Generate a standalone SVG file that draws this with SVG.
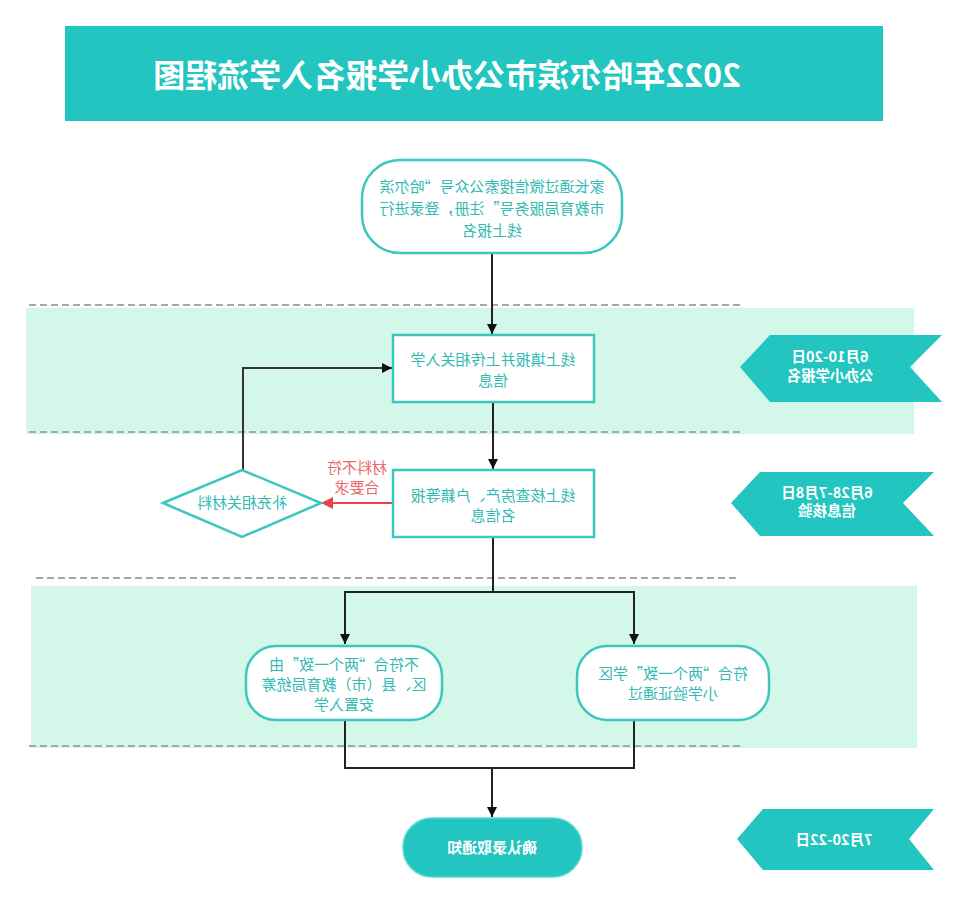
<svg xmlns="http://www.w3.org/2000/svg" width="966" height="900" viewBox="0 0 966 900">
<defs>
<style>
.t{font-family:"Noto Sans CJK SC","Noto Sans",sans-serif;text-anchor:middle}
.nt{fill:#33bab4;font-size:15px}
.tag{fill:#22c5bf}
.tagt{fill:#ffffff;font-size:14.5px;font-weight:bold}
.node{fill:#ffffff;stroke:#3cc6c0;stroke-width:2.5}
.dash{stroke:#a8a8a8;stroke-width:2;stroke-dasharray:7 4;fill:none}
.band{fill:#d3f7e9}
.ln{stroke:#222;stroke-width:2;fill:none}
</style>
<marker id="ah" markerUnits="userSpaceOnUse" markerWidth="10" markerHeight="10" refX="10" refY="5" orient="auto">
<path d="M0,0 L10,5 L0,10 z" fill="#111"/>
</marker>
<marker id="ahr" markerUnits="userSpaceOnUse" markerWidth="12" markerHeight="12" refX="12" refY="6" orient="auto">
<path d="M0,0 L12,6 L0,12 z" fill="#e8454a"/>
</marker>
</defs>
<rect width="966" height="900" fill="#ffffff"/>

<g id="bands">
<rect class="band" x="26" y="308" width="888" height="126"/>
<rect class="band" x="31" y="586" width="886" height="162"/>
<line class="dash" x1="29" y1="305" x2="740" y2="305"/>
<line class="dash" x1="29" y1="432" x2="740" y2="432"/>
<line class="dash" x1="36" y1="578" x2="740" y2="578"/>
<line class="dash" x1="29" y1="746" x2="740" y2="746"/>
</g>

<g id="title">
<rect x="65" y="26" width="818" height="95" fill="#22c5bf"/>
<text class="t" x="447" y="87" transform="matrix(-1 0 0 1 894 0)" font-size="32" font-weight="bold" fill="#ffffff">2022年哈尔滨市公办小学报名入学流程图</text>
</g>

<g id="connectors">
<line class="ln" x1="492" y1="253" x2="492" y2="334" marker-end="url(#ah)"/>
<line class="ln" x1="493" y1="402" x2="493" y2="469" marker-end="url(#ah)"/>
<polyline points="243,470 243,368 392,368" fill="none" stroke="#333" stroke-width="2" marker-end="url(#ah)"/>
<line x1="393" y1="503" x2="321" y2="503" stroke="#e8454a" stroke-width="2" marker-end="url(#ahr)"/>
<polyline class="ln" points="493,537 493,592"/>
<polyline class="ln" points="345,644 345,592 634,592 634,644"/>
<line x1="345" y1="592" x2="345" y2="644" class="ln" marker-end="url(#ah)"/>
<line x1="634" y1="592" x2="634" y2="644" class="ln" marker-end="url(#ah)"/>
<polyline class="ln" points="345,720 345,768 634,768 634,720"/>
<line class="ln" x1="492" y1="768" x2="492" y2="817" marker-end="url(#ah)"/>
<g id="label-red">
<text class="t" x="357" y="473" transform="matrix(-1 0 0 1 714 0)" font-size="15" fill="#e86a6a">材料不符</text>
<text class="t" x="357" y="493" transform="matrix(-1 0 0 1 714 0)" font-size="15" fill="#e86a6a">合要求</text>
</g>
</g>

<g id="n-start">
<rect class="node" x="362" y="160" width="260" height="93" rx="38"/>
<text class="t nt" x="492" y="192" transform="matrix(-1 0 0 1 984 0)">家长通过微信搜索公众号“哈尔滨</text>
<text class="t nt" x="492" y="214" transform="matrix(-1 0 0 1 984 0)">市教育局服务号”注册，登录进行</text>
<text class="t nt" x="492" y="236" transform="matrix(-1 0 0 1 984 0)">线上报名</text>
</g>

<g id="n-fill">
<rect class="node" x="393" y="335" width="201" height="67"/>
<text class="t nt" x="493" y="365" transform="matrix(-1 0 0 1 986 0)">线上填报并上传相关入学</text>
<text class="t nt" x="493" y="386" transform="matrix(-1 0 0 1 986 0)">信息</text>
</g>

<g id="n-check">
<rect class="node" x="393" y="470" width="201" height="67"/>
<text class="t nt" x="493" y="501" transform="matrix(-1 0 0 1 986 0)">线上核查房产、户籍等报</text>
<text class="t nt" x="493" y="521" transform="matrix(-1 0 0 1 986 0)">名信息</text>
</g>

<g id="n-supplement">
<polygon class="node" points="163,503 242,470 321,503 242,537"/>
<text class="t nt" x="242" y="508" transform="matrix(-1 0 0 1 484 0)">补充相关材料</text>
</g>

<g id="n-nomatch">
<rect class="node" x="246" y="646" width="196" height="74" rx="30"/>
<text class="t nt" x="344" y="670" transform="matrix(-1 0 0 1 688 0)">不符合“两个一致”由</text>
<text class="t nt" x="344" y="690" transform="matrix(-1 0 0 1 688 0)">区、县（市）教育局统筹</text>
<text class="t nt" x="344" y="710" transform="matrix(-1 0 0 1 688 0)">安置入学</text>
</g>

<g id="n-match">
<rect class="node" x="577" y="646" width="192" height="74" rx="30"/>
<text class="t nt" x="673" y="679" transform="matrix(-1 0 0 1 1346 0)">符合“两个一致”学区</text>
<text class="t nt" x="673" y="699" transform="matrix(-1 0 0 1 1346 0)">小学验证通过</text>
</g>

<g id="n-confirm">
<rect x="403" y="818" width="179" height="59" rx="29" fill="#22c5bf" stroke="#5fd8d2" stroke-width="1.5"/>
<text class="t" x="492" y="853" transform="matrix(-1 0 0 1 984 0)" font-size="15" font-weight="bold" fill="#ffffff">确认录取通知</text>
</g>

<g id="tag1">
<polygon class="tag" points="740,367 770,335 942,335 910,367 942,402 770,402"/>
<text class="t tagt" x="830" y="362" transform="matrix(-1 0 0 1 1660 0)">6月10-20日</text>
<text class="t tagt" x="830" y="381" transform="matrix(-1 0 0 1 1660 0)">公办小学报名</text>
</g>

<g id="tag2">
<polygon class="tag" points="731,503 760,472 934,472 903,503 934,536 760,536"/>
<text class="t tagt" x="827" y="498" transform="matrix(-1 0 0 1 1654 0)">6月28-7月8日</text>
<text class="t tagt" x="827" y="516" transform="matrix(-1 0 0 1 1654 0)">信息核验</text>
</g>

<g id="tag3">
<polygon class="tag" points="737,839 763,809 934,809 909,839 934,870 763,870"/>
<text class="t tagt" x="834" y="845" transform="matrix(-1 0 0 1 1668 0)">7月20-22日</text>
</g>
</svg>
